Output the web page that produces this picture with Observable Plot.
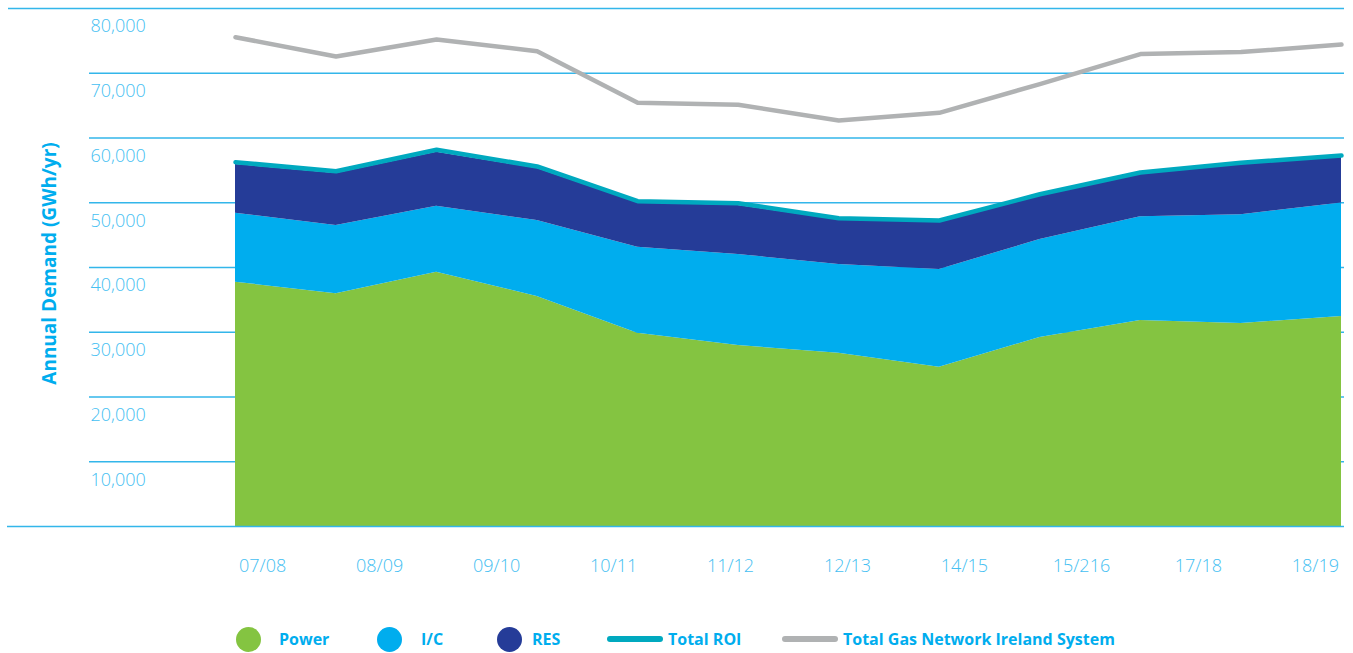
<!DOCTYPE html>
<html>
<head>
<meta charset="utf-8">
<script src="https://cdn.jsdelivr.net/npm/d3@7"></script>
<script src="https://cdn.jsdelivr.net/npm/@observablehq/plot@0.6"></script>
<style>
  body { margin: 0; background: #fff; font-family: "Open Sans", sans-serif; }
  #wrap { position: relative; width: 1353px; height: 653px; overflow: hidden; }
  #legend { position: absolute; left: 0; top: 600px; width: 1353px; height: 53px; }
  .sw { position: absolute; }
  .lt { position: absolute; font-family: "Open Sans", sans-serif; font-weight: 700; font-size: 16px; color: #00adee; line-height: 20px; white-space: nowrap; }
</style>
</head>
<body>
<div id="wrap">
  <div id="chart"></div>
  <div id="legend"></div>
</div>
<script>
// ---- data (GWh/yr) ----
const years = ["07/08","08/09","09/10","10/11","11/12","12/13","13/14","14/15","15/16","16/17","17/18","18/19"];
const power    = [37730, 35940, 39270, 35520, 29850, 27950, 26760, 24600, 29190, 31800, 31350, 32430];
const ic       = [10660, 10550, 10200, 11740, 13290, 14060, 13700, 15090, 15130, 16050, 16790, 17520];
const res      = [ 7520,  8030,  8340,  8030,  6850,  7570,  6910,  7310,  6720,  6640,  7770,  7040];
const totalROI = [56260, 54870, 58180, 55600, 50240, 49930, 47610, 47260, 51310, 54670, 56190, 57280];
const totalGNI = [75570, 72590, 75210, 73410, 65440, 65130, 62700, 63890, 68320, 72960, 73270, 74430];
const xTickLabels = ["07/08","08/09","09/10","10/11","11/12","12/13","14/15","15/216","17/18","18/19"];
const yTicks = [10000, 20000, 30000, 40000, 50000, 60000, 70000, 80000];
const seriesNames = ["Power", "I/C", "RES"];
const seriesColors = ["#84c441", "#00adee", "#253c98"];
const yTitle = "Annual Demand (GWh/yr)";

// ---- tables built from the arrays ----
const stackData = [];
years.forEach((y, i) => {
  stackData.push({i, series: "Power", value: power[i]});
  stackData.push({i, series: "I/C", value: ic[i]});
  stackData.push({i, series: "RES", value: res[i]});
});
const roi = years.map((y, i) => ({i, v: totalROI[i]}));
const gni = years.map((y, i) => ({i, v: totalGNI[i]}));

// x-axis labels are evenly spread (layout), independent of the data points
const labelStart = 0.27, labelEnd = 10.74;
const xTickPos = xTickLabels.map((d, k) => labelStart + k * (labelEnd - labelStart) / (xTickLabels.length - 1));

const gridColor = "#33b6ea";
const tickColor = "#45c0f2";

const chart = Plot.plot({
  width: 1353,
  height: 600,
  marginTop: 8,
  marginBottom: 74,
  marginLeft: 89,
  marginRight: 9,
  style: { fontFamily: "'Open Sans', sans-serif", background: "#fff" },
  x: { type: "linear", domain: [0, years.length - 1], range: [235, 1341] },
  y: { domain: [0, 80000], nice: false },
  color: { domain: seriesNames, range: seriesColors },
  marks: [
    Plot.ruleY(yTicks.filter(d => d < 80000), { stroke: gridColor, strokeWidth: 1.3 }),
    Plot.ruleY([80000], { stroke: gridColor, strokeWidth: 1.3, insetLeft: -81 }),
    Plot.areaY(stackData, { x: "i", y: "value", fill: "series", order: seriesNames }),
    Plot.ruleY([0], { stroke: gridColor, strokeWidth: 1.5, insetLeft: -82 }),
    Plot.line(roi, { x: "i", y: "v", stroke: "#00a9bf", strokeWidth: 4.5, strokeLinecap: "round", strokeLinejoin: "round" }),
    Plot.line(gni, { x: "i", y: "v", stroke: "#b0b2b3", strokeWidth: 4.5, strokeLinecap: "round", strokeLinejoin: "round" }),
    Plot.axisY({ ticks: yTicks, tickSize: 0, tickPadding: 0, textAnchor: "start", dx: 1, dy: 18,
      tickFormat: d3.format(","), label: null, fill: tickColor, fontSize: 18, fontWeight: 300 }),
    Plot.axisX({ ticks: xTickPos, tickSize: 0, tickPadding: 33, tickFormat: (d, k) => xTickLabels[k],
      label: null, fill: tickColor, fontSize: 18, fontWeight: 300 }),
    Plot.text([yTitle], { frameAnchor: "left", dx: -40, dy: -4, rotate: -90, textAnchor: "middle", text: d => d,
      fill: "#00adee", fontSize: 19, fontWeight: 700 })
  ]
});
document.getElementById("chart").appendChild(chart);

// ---- legend (HTML, below the SVG) ----
const legend = document.getElementById("legend");
const cy = 39; // centre line within legend box
const items = [
  { type: "dot", color: seriesColors[0], label: seriesNames[0], sx: 236, tx: 279 },
  { type: "dot", color: seriesColors[1], label: seriesNames[1], sx: 377, tx: 421 },
  { type: "dot", color: seriesColors[2], label: seriesNames[2], sx: 497, tx: 532 },
  { type: "line", color: "#00a9bf", label: "Total ROI", sx: 607, w: 56, tx: 668 },
  { type: "line", color: "#b0b2b3", label: "Total Gas Network Ireland System", sx: 782, w: 56, tx: 843 }
];
items.forEach(it => {
  const s = document.createElement("div");
  s.className = "sw";
  if (it.type === "dot") {
    Object.assign(s.style, { left: it.sx + "px", top: (cy - 12.5) + "px", width: "25px", height: "25px", borderRadius: "50%", background: it.color });
  } else {
    Object.assign(s.style, { left: it.sx + "px", top: (cy - 3) + "px", width: it.w + "px", height: "6px", borderRadius: "3px", background: it.color });
  }
  legend.appendChild(s);
  const t = document.createElement("div");
  t.className = "lt";
  t.textContent = it.label;
  Object.assign(t.style, { left: it.tx + "px", top: (cy - 10) + "px" });
  legend.appendChild(t);
});
</script>
</body>
</html>
